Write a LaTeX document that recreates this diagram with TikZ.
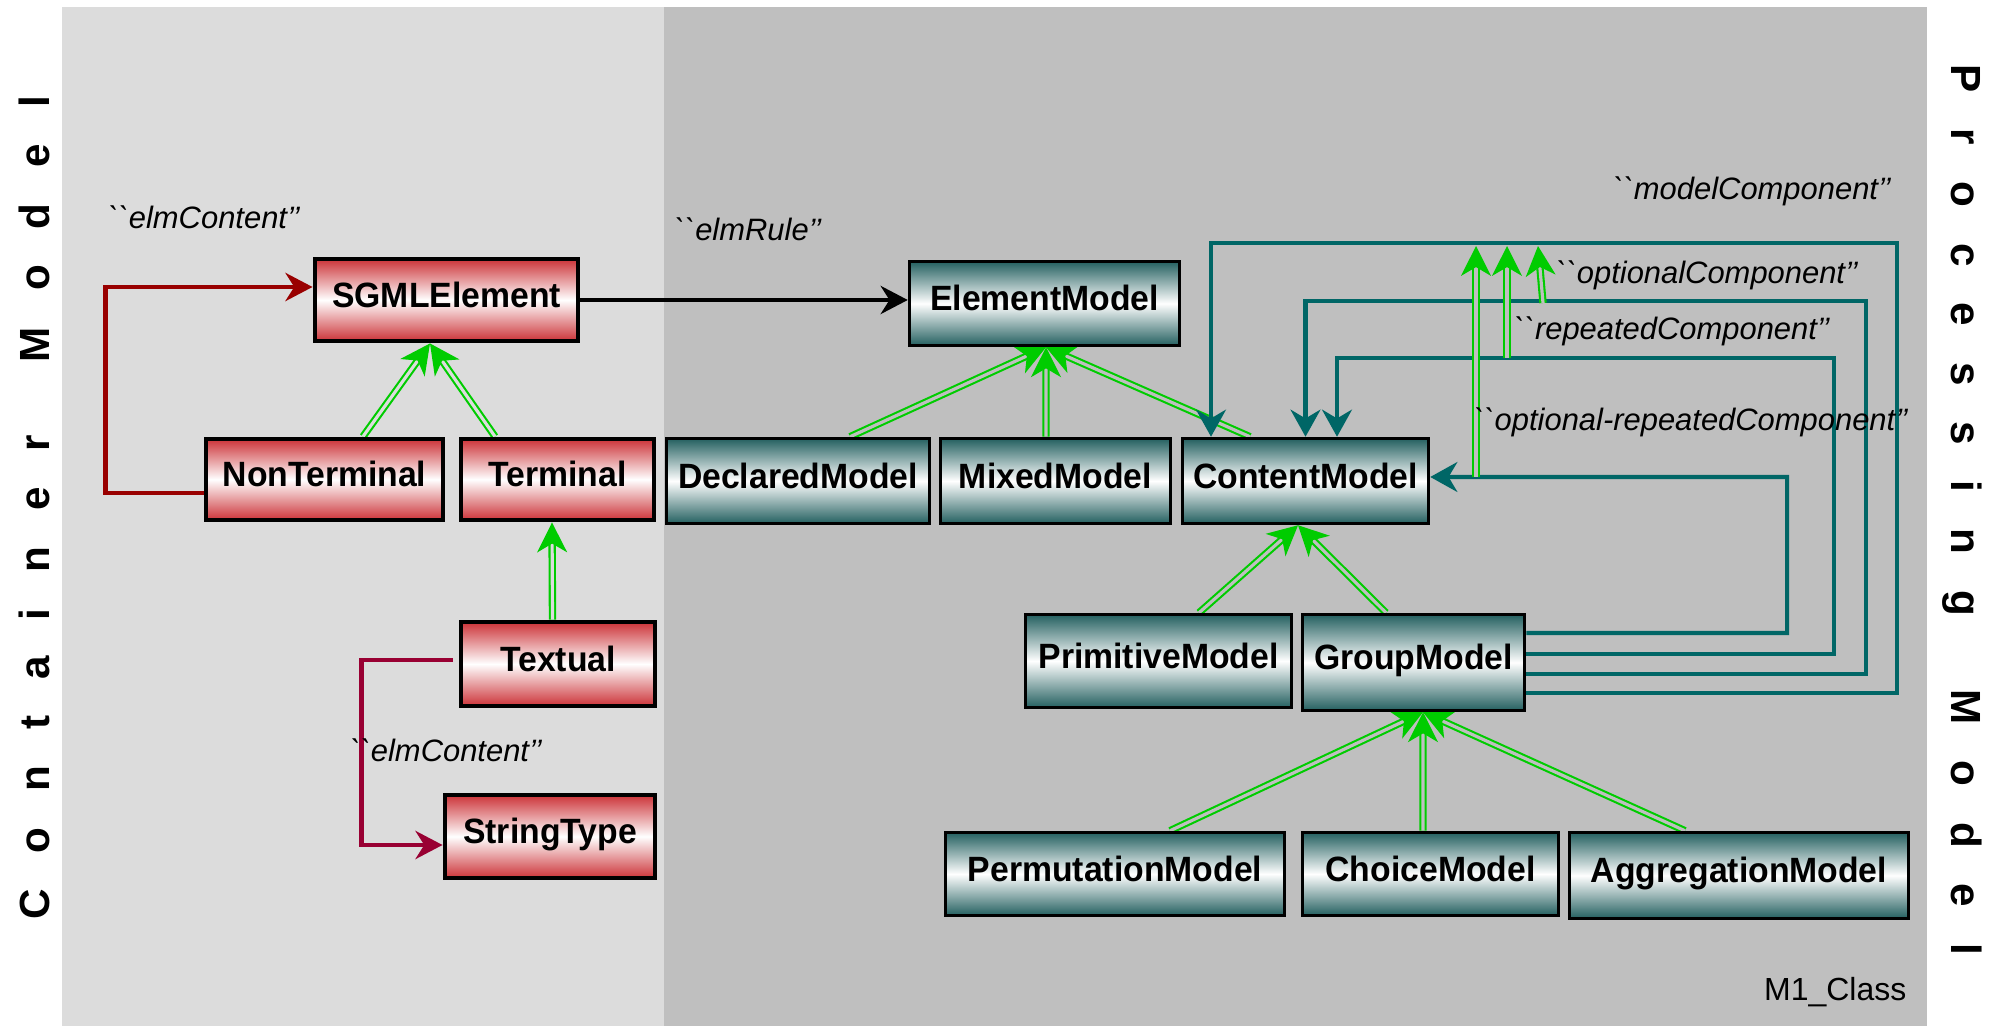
\documentclass[tikz,border=0pt]{standalone}
\usepackage{fontspec}
\usetikzlibrary{arrows.meta}
\newfontfamily\boxfont{Liberation Sans}[FakeStretch=0.96]
\newfontfamily\rolefont{Liberation Sans}
\newfontfamily\titlefont{Liberation Sans}
\definecolor{lightpanel}{RGB}{220,220,220}
\definecolor{darkpanel}{RGB}{191,191,191}
\definecolor{classred}{RGB}{204,51,56}
\definecolor{classteal}{RGB}{36,96,96}
\definecolor{linkteal}{RGB}{0,102,102}
\definecolor{linkred}{RGB}{153,0,0}
\definecolor{linkcrimson}{RGB}{153,0,51}
\definecolor{isagreen}{RGB}{0,204,0}
\pgfdeclarelayer{bglayer}
\pgfdeclarelayer{edgelayer}
\pgfdeclarelayer{nodelayer}
\pgfsetlayers{bglayer,edgelayer,nodelayer,main}
\tikzstyle{redclass}=[rectangle,draw=black,line width=1.4pt,top color=classred,bottom color=classred,middle color=white,inner sep=0pt,text height=0.75em,text depth=0.35em,font={\boxfont\bfseries\fontsize{10}{12}\selectfont}]
\tikzstyle{tealclass}=[rectangle,draw=black,line width=1pt,top color=classteal,bottom color=classteal,middle color=white,inner sep=0pt,text height=0.75em,text depth=0.35em,font={\boxfont\bfseries\fontsize{10}{12}\selectfont}]
\tikzstyle{isa}=[draw=isagreen,line width=0.6pt,double=darkpanel,double distance=0.9pt,-{Stealth[length=8.5pt,width=8.5pt,inset=2.5pt]}]
\tikzstyle{isaleft}=[isa,double=lightpanel]
\tikzstyle{compline}=[draw=linkteal,line width=1.15pt,-{Stealth[length=7.7pt,width=8.5pt,inset=2.5pt]}]
\tikzstyle{ownerline}=[line width=1.3pt,-{Stealth[length=7.7pt,width=8pt,inset=2.5pt]}]
\tikzstyle{ruleline}=[draw=black,line width=1.15pt,-{Stealth[length=7.7pt,width=8pt,inset=2.5pt]}]
\tikzstyle{rolename}=[inner sep=0pt,font={\rolefont\itshape\fontsize{8.8}{10}\selectfont}]
\tikzstyle{paneltitle}=[inner sep=0pt,anchor=base,font={\titlefont\bfseries\fontsize{12}{14}\selectfont}]

\begin{document}
\begin{tikzpicture}
	\useasboundingbox (0, 0) rectangle (19.98, -10.26);
	\begin{pgfonlayer}{bglayer}
		\fill [lightpanel] (0.62, -0.07) rectangle (6.64, -10.26);
		\fill [darkpanel] (6.64, -0.07) rectangle (19.27, -10.26);
	\end{pgfonlayer}
	\begin{pgfonlayer}{nodelayer}
		\node [style=redclass, minimum width=2.63cm, minimum height=0.82cm] (0) at (4.465, -3.00) {SGMLElement};
		\node [style=redclass, minimum width=2.37cm, minimum height=0.81cm] (1) at (3.245, -4.795) {NonTerminal};
		\node [style=redclass, minimum width=1.93cm, minimum height=0.81cm] (2) at (5.575, -4.795) {Terminal};
		\node [style=redclass, minimum width=1.94cm, minimum height=0.84cm] (3) at (5.58, -6.64) {Textual};
		\node [style=redclass, minimum width=2.10cm, minimum height=0.83cm] (4) at (5.50, -8.365) {StringType};
		\node [style=tealclass, minimum width=2.70cm, minimum height=0.84cm] (5) at (10.445, -3.035) {ElementModel};
		\node [style=tealclass, minimum width=2.63cm, minimum height=0.85cm] (6) at (7.98, -4.81) {DeclaredModel};
		\node [style=tealclass, minimum width=2.30cm, minimum height=0.85cm] (7) at (10.555, -4.81) {MixedModel};
		\node [style=tealclass, minimum width=2.46cm, minimum height=0.85cm] (8) at (13.055, -4.81) {ContentModel};
		\node [style=tealclass, minimum width=2.66cm, minimum height=0.93cm] (9) at (11.585, -6.61) {PrimitiveModel};
		\node [style=tealclass, minimum width=2.22cm, minimum height=0.96cm] (10) at (14.135, -6.625) {GroupModel};
		\node [style=tealclass, minimum width=3.39cm, minimum height=0.83cm] (11) at (11.15, -8.74) {PermutationModel};
		\node [style=tealclass, minimum width=2.56cm, minimum height=0.83cm] (12) at (14.305, -8.74) {ChoiceModel};
		\node [style=tealclass, minimum width=3.39cm, minimum height=0.86cm] (13) at (17.39, -8.755) {AggregationModel};
	\end{pgfonlayer}
	\begin{pgfonlayer}{edgelayer}
		\coordinate (30) at (14.76, -4.77);
		\coordinate (31) at (14.76, -2.46);
		\coordinate (32) at (15.07, -3.58);
		\coordinate (33) at (15.07, -2.46);
		\coordinate (34) at (15.43, -3.03);
		\coordinate (35) at (15.38, -2.46);
		\draw [style=ownerline, draw=linkred] ([yshift=-0.135cm]1.west) -- ++(-0.98, 0) |- ([yshift=0.13cm]0.west);
		\draw [style=ownerline, draw=linkcrimson] ([xshift=-0.06cm, yshift=0.04cm]3.west) -- ++(-0.91, 0) |- ([yshift=-0.085cm]4.west);
		\draw [style=ruleline] (0.east) -- (0.east -| 5.west);
		\draw [style=isaleft] ([xshift=0.385cm]1.north) to ([xshift=-0.165cm]0.south);
		\draw [style=isaleft] ([xshift=-0.625cm]2.north) to ([xshift=-0.165cm]0.south);
		\draw [style=isaleft] ([xshift=-0.055cm]3.north) to ([xshift=-0.055cm]2.south);
		\draw [style=isa] ([xshift=0.52cm]6.north) to ([xshift=0.015cm]5.south);
		\draw [style=isa] ([xshift=-0.095cm]7.north) to ([xshift=0.015cm]5.south);
		\draw [style=isa] ([xshift=-0.555cm]8.north) to ([xshift=0.015cm]5.south);
		\draw [style=isa] ([xshift=0.405cm]9.north) to ([xshift=-0.075cm]8.south);
		\draw [style=isa] ([xshift=-0.275cm]10.north) to ([xshift=-0.075cm]8.south);
		\draw [style=isa] ([xshift=0.55cm]11.north) to ([xshift=0.095cm]10.south);
		\draw [style=isa] ([xshift=-0.075cm]12.north) to ([xshift=0.095cm]10.south);
		\draw [style=isa] ([xshift=-0.54cm]13.north) to ([xshift=0.095cm]10.south);
		\draw [style=compline] ([yshift=-0.305cm]10.east) -| (18.97, -2.43) -| ([xshift=-0.945cm]8.north);
		\draw [style=compline] ([yshift=-0.115cm]10.east) -| (18.66, -3.01) -| (8.north);
		\draw [style=compline] ([yshift=0.085cm]10.east) -| (18.34, -3.58) -| ([xshift=0.315cm]8.north);
		\draw [style=compline] ([yshift=0.295cm]10.east) -| (17.87, -4.77) -- ([yshift=0.04cm]8.east);
		\draw [style=isa] (30) to (31);
		\draw [style=isa] (32) to (33);
		\draw [style=isa] (34) to (35);
	\end{pgfonlayer}
	\node [style=rolename] (14) at (2.04, -2.17) {``elmContent’’};
	\node [style=rolename] (15) at (7.48, -2.29) {``elmRule’’};
	\node [style=rolename] (16) at (4.46, -7.50) {``elmContent’’};
	\node [style=rolename] (17) at (17.52, -1.91) {``modelComponent’’};
	\node [style=rolename] (18) at (17.07, -2.75) {``optionalComponent’’};
	\node [style=rolename] (19) at (16.72, -3.31) {``repeatedComponent’’};
	\node [style=rolename] (20) at (16.91, -4.22) {``optional-repeatedComponent’’};
	\node [inner sep=0pt, anchor=base east, font={\rolefont\fontsize{9.1}{11}\selectfont}] (21) at (19.07, -10.00) {M1\_Class};
	\node [style=paneltitle, rotate=90] (22) at (0.50, -5.08) {\spaceskip=0.36cm C o n t a i n e r\hspace{0.73cm}M o d e l};
	\node [style=paneltitle, rotate=-90] (23) at (19.51, -5.10) {\spaceskip=0.36cm P r o c e s s i n g\hspace{0.73cm}M o d e l};
\end{tikzpicture}
\end{document}
